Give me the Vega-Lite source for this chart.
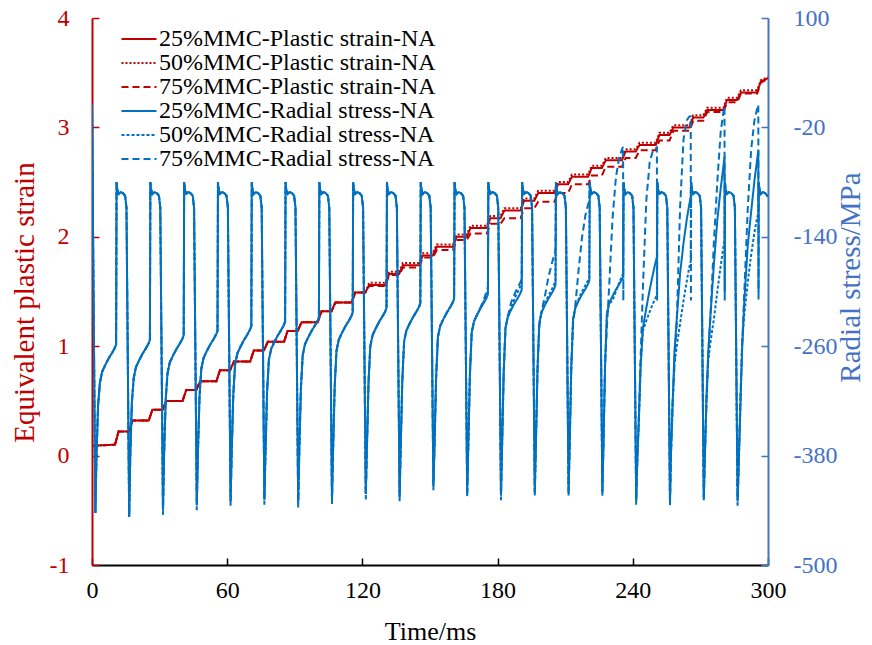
{
"$schema":"https://vega.github.io/schema/vega-lite/v6.json",
"width":676,"height":547,
"autosize":"none",
"padding":{"left":92,"top":18,"right":104,"bottom":80},
"background":"white",
"config":{"font":"Liberation Serif","view":{"stroke":null},"axis":{"grid":false,"labelFont":"Liberation Serif","titleFont":"Liberation Serif","labelFontSize":24,"titleFontSize":29,"titleFontWeight":"normal","labelOverlap":false}},
"layer":[
{"data":{"values":[
{"t":0,"r25":0.09,"r50":0.09,"r75":0.09},
{"t":10.2,"r25":0.10,"r50":0.10,"r75":0.10},
{"t":11.8,"r25":0.22,"r50":0.22,"r75":0.22},
{"t":16.3,"r25":0.22,"r50":0.22,"r75":0.22},
{"t":18,"r25":0.32,"r50":0.32,"r75":0.32},
{"t":25.2,"r25":0.32,"r50":0.32,"r75":0.32},
{"t":26.8,"r25":0.42,"r50":0.42,"r75":0.42},
{"t":31.3,"r25":0.42,"r50":0.42,"r75":0.42},
{"t":33,"r25":0.50,"r50":0.50,"r75":0.50},
{"t":40.2,"r25":0.50,"r50":0.50,"r75":0.50},
{"t":41.8,"r25":0.60,"r50":0.60,"r75":0.60},
{"t":46.3,"r25":0.60,"r50":0.60,"r75":0.60},
{"t":48,"r25":0.68,"r50":0.68,"r75":0.68},
{"t":55.2,"r25":0.68,"r50":0.68,"r75":0.68},
{"t":56.8,"r25":0.78,"r50":0.78,"r75":0.78},
{"t":61.3,"r25":0.78,"r50":0.78,"r75":0.78},
{"t":63,"r25":0.86,"r50":0.86,"r75":0.86},
{"t":70.2,"r25":0.86,"r50":0.86,"r75":0.86},
{"t":71.8,"r25":0.96,"r50":0.96,"r75":0.96},
{"t":76.3,"r25":0.96,"r50":0.96,"r75":0.96},
{"t":78,"r25":1.04,"r50":1.04,"r75":1.04},
{"t":85.2,"r25":1.04,"r50":1.04,"r75":1.04},
{"t":86.8,"r25":1.14,"r50":1.14,"r75":1.14},
{"t":91.3,"r25":1.14,"r50":1.14,"r75":1.14},
{"t":93,"r25":1.22,"r50":1.22,"r75":1.22},
{"t":100.2,"r25":1.22,"r50":1.22,"r75":1.22},
{"t":101.8,"r25":1.32,"r50":1.32,"r75":1.32},
{"t":106.3,"r25":1.32,"r50":1.32,"r75":1.32},
{"t":108,"r25":1.40,"r50":1.40,"r75":1.40},
{"t":115.2,"r25":1.40,"r50":1.40,"r75":1.40},
{"t":116.8,"r25":1.49,"r50":1.49,"r75":1.49},
{"t":121.3,"r25":1.49,"r50":1.49,"r75":1.49},
{"t":123,"r25":1.56,"r50":1.58,"r75":1.55},
{"t":130.2,"r25":1.56,"r50":1.58,"r75":1.55},
{"t":131.8,"r25":1.66,"r50":1.68,"r75":1.65},
{"t":136.3,"r25":1.66,"r50":1.68,"r75":1.65},
{"t":138,"r25":1.74,"r50":1.76,"r75":1.72},
{"t":145.2,"r25":1.74,"r50":1.76,"r75":1.72},
{"t":146.8,"r25":1.83,"r50":1.85,"r75":1.81},
{"t":151.3,"r25":1.83,"r50":1.85,"r75":1.81},
{"t":153,"r25":1.91,"r50":1.93,"r75":1.88},
{"t":160.2,"r25":1.91,"r50":1.93,"r75":1.88},
{"t":161.8,"r25":2.00,"r50":2.02,"r75":1.97},
{"t":166.3,"r25":2.00,"r50":2.02,"r75":1.97},
{"t":168,"r25":2.08,"r50":2.10,"r75":2.03},
{"t":175.2,"r25":2.08,"r50":2.10,"r75":2.03},
{"t":176.8,"r25":2.17,"r50":2.19,"r75":2.12},
{"t":181.3,"r25":2.17,"r50":2.19,"r75":2.12},
{"t":183,"r25":2.24,"r50":2.26,"r75":2.17},
{"t":190.2,"r25":2.24,"r50":2.26,"r75":2.17},
{"t":191.8,"r25":2.33,"r50":2.35,"r75":2.26},
{"t":196.3,"r25":2.33,"r50":2.35,"r75":2.26},
{"t":198,"r25":2.40,"r50":2.42,"r75":2.32},
{"t":205.2,"r25":2.40,"r50":2.42,"r75":2.32},
{"t":206.8,"r25":2.48,"r50":2.50,"r75":2.40},
{"t":211.3,"r25":2.48,"r50":2.50,"r75":2.40},
{"t":213,"r25":2.55,"r50":2.57,"r75":2.48},
{"t":220.2,"r25":2.55,"r50":2.57,"r75":2.48},
{"t":221.8,"r25":2.63,"r50":2.65,"r75":2.56},
{"t":226.3,"r25":2.63,"r50":2.65,"r75":2.56},
{"t":228,"r25":2.70,"r50":2.72,"r75":2.64},
{"t":235.2,"r25":2.70,"r50":2.72,"r75":2.64},
{"t":236.8,"r25":2.78,"r50":2.80,"r75":2.72},
{"t":241.3,"r25":2.78,"r50":2.80,"r75":2.72},
{"t":243,"r25":2.84,"r50":2.86,"r75":2.79},
{"t":250.2,"r25":2.84,"r50":2.86,"r75":2.79},
{"t":251.8,"r25":2.93,"r50":2.95,"r75":2.88},
{"t":256.3,"r25":2.93,"r50":2.95,"r75":2.88},
{"t":258,"r25":3.00,"r50":3.02,"r75":2.97},
{"t":265.2,"r25":3.00,"r50":3.02,"r75":2.97},
{"t":266.8,"r25":3.09,"r50":3.11,"r75":3.06},
{"t":271.3,"r25":3.09,"r50":3.11,"r75":3.06},
{"t":273,"r25":3.16,"r50":3.18,"r75":3.14},
{"t":280.2,"r25":3.16,"r50":3.18,"r75":3.14},
{"t":281.8,"r25":3.25,"r50":3.27,"r75":3.23},
{"t":286.3,"r25":3.25,"r50":3.27,"r75":3.23},
{"t":288,"r25":3.32,"r50":3.34,"r75":3.31},
{"t":295.2,"r25":3.32,"r50":3.34,"r75":3.31},
{"t":296.8,"r25":3.42,"r50":3.43,"r75":3.41},
{"t":300,"r25":3.45,"r50":3.46,"r75":3.44}
]},
"transform":[{"fold":["r25","r50","r75"],"as":["k","v"]}],
"mark":{"type":"line","strokeWidth":2,"clip":true},
"encoding":{
"x":{"field":"t","type":"quantitative","scale":{"domain":[0,300],"nice":false},"axis":{"title":"Time/ms","titleFontSize":26,"values":[0,60,120,180,240,300],"labelFlush":false,"tickSize":-7,"labelPadding":20,"domainColor":"black","tickColor":"black","domainWidth":2,"tickWidth":1.5,"labelColor":"black","titleColor":"black","titlePadding":16}},
"y":{"field":"v","type":"quantitative","scale":{"domain":[-1,4],"nice":false},"axis":{"title":"Equivalent plastic strain","values":[-1,0,1,2,3,4],"labelExpr":"'' + datum.value","tickSize":-7,"labelPadding":30,"domainColor":"#C00000","tickColor":"#C00000","labelColor":"#C00000","titleColor":"#C00000","domainWidth":2,"tickWidth":1.5,"titleX":-68,"titleY":284,"titleAlign":"center","titleBaseline":"middle"}},
"color":{"field":"k","type":"nominal","scale":{"domain":["r25","r50","r75","b25","b50","b75"],"range":["#C00000","#C00000","#C00000","#0070C0","#0070C0","#0070C0"]},"legend":{"title":null,"orient":"none","legendX":35,"legendY":9,"padding":0,"labelFont":"Liberation Serif","labelFontSize":24,"labelColor":"black","labelLimit":500,"symbolType":"M-1.75,0H1.75","symbolSize":400,"symbolStrokeWidth":2,"rowPadding":-1,"labelOffset":8,"labelExpr":"datum.label=='r25'?'25%MMC-Plastic strain-NA':datum.label=='r50'?'50%MMC-Plastic strain-NA':datum.label=='r75'?'75%MMC-Plastic strain-NA':datum.label=='b25'?'25%MMC-Radial stress-NA':datum.label=='b50'?'50%MMC-Radial stress-NA':'75%MMC-Radial stress-NA'"}},
"strokeDash":{"field":"k","type":"nominal","scale":{"domain":["r25","r50","r75","b25","b50","b75"],"range":[[1,0],[2,2],[7,4],[1,0],[3,2],[7,4]]},"legend":{"title":null,"orient":"none","legendX":35,"legendY":9,"padding":0,"labelFont":"Liberation Serif","labelFontSize":24,"labelColor":"black","labelLimit":500,"symbolType":"M-1.75,0H1.75","symbolSize":400,"symbolStrokeWidth":2,"rowPadding":-1,"labelOffset":8,"labelExpr":"datum.label=='r25'?'25%MMC-Plastic strain-NA':datum.label=='r50'?'50%MMC-Plastic strain-NA':datum.label=='r75'?'75%MMC-Plastic strain-NA':datum.label=='b25'?'25%MMC-Radial stress-NA':datum.label=='b50'?'50%MMC-Radial stress-NA':'75%MMC-Radial stress-NA'"}}
}},
{"data":{"values":[
{"t":0,"b25":5,"b50":5,"b75":5},
{"t":1.5,"b25":-443,"b50":-443,"b75":-443},
{"t":2,"b25":-380,"b50":-380,"b75":-380},
{"t":2.7,"b25":-325,"b50":-325,"b75":-325},
{"t":3.5,"b25":-300,"b50":-300,"b75":-300},
{"t":4.5,"b25":-288,"b50":-288,"b75":-288},
{"t":6,"b25":-280,"b50":-280,"b75":-280},
{"t":7.5,"b25":-273,"b50":-273,"b75":-273},
{"t":9,"b25":-267,"b50":-267,"b75":-267},
{"t":10.1,"b25":-262,"b50":-262,"b75":-262},
{"t":10.7,"b25":-258,"b50":-258,"b75":-258},
{"t":10.8,"b25":-169,"b50":-169,"b75":-169},
{"t":10.9,"b25":-80,"b50":-80,"b75":-80},
{"t":11.2,"b25":-88,"b50":-88,"b75":-88},
{"t":11.8,"b25":-93,"b50":-93,"b75":-93},
{"t":12.7,"b25":-91,"b50":-91,"b75":-91},
{"t":13.7,"b25":-92,"b50":-92,"b75":-92},
{"t":14.7,"b25":-95,"b50":-95,"b75":-95},
{"t":15.3,"b25":-108,"b50":-108,"b75":-108},
{"t":16.5,"b25":-447,"b50":-447,"b75":-447},
{"t":17,"b25":-379,"b50":-379,"b75":-379},
{"t":17.7,"b25":-322,"b50":-322,"b75":-322},
{"t":18.5,"b25":-295,"b50":-295,"b75":-295},
{"t":19.5,"b25":-283,"b50":-283,"b75":-283},
{"t":21,"b25":-275,"b50":-275,"b75":-275},
{"t":22.5,"b25":-268,"b50":-268,"b75":-268},
{"t":24,"b25":-262,"b50":-262,"b75":-262},
{"t":25.1,"b25":-257,"b50":-257,"b75":-257},
{"t":25.7,"b25":-253,"b50":-253,"b75":-253},
{"t":25.8,"b25":-167,"b50":-167,"b75":-167},
{"t":25.9,"b25":-80,"b50":-80,"b75":-80},
{"t":26.2,"b25":-88,"b50":-88,"b75":-88},
{"t":26.8,"b25":-93,"b50":-93,"b75":-93},
{"t":27.7,"b25":-91,"b50":-91,"b75":-91},
{"t":28.7,"b25":-92,"b50":-92,"b75":-92},
{"t":29.7,"b25":-95,"b50":-95,"b75":-95},
{"t":30.3,"b25":-108,"b50":-108,"b75":-108},
{"t":31.5,"b25":-440,"b50":-441,"b75":-445},
{"t":32,"b25":-378,"b50":-378,"b75":-378},
{"t":32.7,"b25":-319,"b50":-319,"b75":-319},
{"t":33.5,"b25":-290,"b50":-290,"b75":-290},
{"t":34.5,"b25":-278,"b50":-278,"b75":-278},
{"t":36,"b25":-270,"b50":-270,"b75":-270},
{"t":37.5,"b25":-263,"b50":-263,"b75":-263},
{"t":39,"b25":-257,"b50":-257,"b75":-257},
{"t":40.1,"b25":-252,"b50":-252,"b75":-252},
{"t":40.7,"b25":-248,"b50":-248,"b75":-248},
{"t":40.8,"b25":-164,"b50":-164,"b75":-164},
{"t":40.9,"b25":-80,"b50":-80,"b75":-80},
{"t":41.2,"b25":-88,"b50":-88,"b75":-88},
{"t":41.8,"b25":-93,"b50":-93,"b75":-93},
{"t":42.7,"b25":-91,"b50":-91,"b75":-91},
{"t":43.7,"b25":-92,"b50":-92,"b75":-92},
{"t":44.7,"b25":-95,"b50":-95,"b75":-95},
{"t":45.3,"b25":-108,"b50":-108,"b75":-108},
{"t":46.5,"b25":-434,"b50":-435,"b75":-440},
{"t":47,"b25":-377,"b50":-377,"b75":-377},
{"t":47.7,"b25":-316,"b50":-316,"b75":-316},
{"t":48.5,"b25":-285,"b50":-285,"b75":-285},
{"t":49.5,"b25":-273,"b50":-273,"b75":-273},
{"t":51,"b25":-265,"b50":-265,"b75":-265},
{"t":52.5,"b25":-258,"b50":-258,"b75":-258},
{"t":54,"b25":-252,"b50":-252,"b75":-252},
{"t":55.1,"b25":-247,"b50":-247,"b75":-247},
{"t":55.7,"b25":-243,"b50":-243,"b75":-243},
{"t":55.8,"b25":-162,"b50":-162,"b75":-162},
{"t":55.9,"b25":-80,"b50":-80,"b75":-80},
{"t":56.2,"b25":-88,"b50":-88,"b75":-88},
{"t":56.8,"b25":-93,"b50":-93,"b75":-93},
{"t":57.7,"b25":-91,"b50":-91,"b75":-91},
{"t":58.7,"b25":-92,"b50":-92,"b75":-92},
{"t":59.7,"b25":-95,"b50":-95,"b75":-95},
{"t":60.3,"b25":-108,"b50":-108,"b75":-108},
{"t":61.5,"b25":-429,"b50":-430,"b75":-435},
{"t":62,"b25":-376,"b50":-376,"b75":-376},
{"t":62.7,"b25":-313,"b50":-313,"b75":-313},
{"t":63.5,"b25":-280,"b50":-280,"b75":-280},
{"t":64.5,"b25":-268,"b50":-268,"b75":-268},
{"t":66,"b25":-260,"b50":-260,"b75":-260},
{"t":67.5,"b25":-253,"b50":-253,"b75":-253},
{"t":69,"b25":-247,"b50":-247,"b75":-247},
{"t":70.1,"b25":-242,"b50":-242,"b75":-242},
{"t":70.7,"b25":-238,"b50":-238,"b75":-238},
{"t":70.8,"b25":-159,"b50":-159,"b75":-159},
{"t":70.9,"b25":-80,"b50":-80,"b75":-80},
{"t":71.2,"b25":-88,"b50":-88,"b75":-88},
{"t":71.8,"b25":-93,"b50":-93,"b75":-93},
{"t":72.7,"b25":-91,"b50":-91,"b75":-91},
{"t":73.7,"b25":-92,"b50":-92,"b75":-92},
{"t":74.7,"b25":-95,"b50":-95,"b75":-95},
{"t":75.3,"b25":-108,"b50":-108,"b75":-108},
{"t":76.5,"b25":-428,"b50":-429,"b75":-434},
{"t":77,"b25":-375,"b50":-375,"b75":-375},
{"t":77.7,"b25":-310,"b50":-310,"b75":-310},
{"t":78.5,"b25":-275,"b50":-275,"b75":-275},
{"t":79.5,"b25":-263,"b50":-263,"b75":-263},
{"t":81,"b25":-255,"b50":-255,"b75":-255},
{"t":82.5,"b25":-248,"b50":-248,"b75":-248},
{"t":84,"b25":-242,"b50":-242,"b75":-242},
{"t":85.1,"b25":-237,"b50":-237,"b75":-237},
{"t":85.7,"b25":-233,"b50":-233,"b75":-233},
{"t":85.8,"b25":-157,"b50":-157,"b75":-157},
{"t":85.9,"b25":-80,"b50":-80,"b75":-80},
{"t":86.2,"b25":-88,"b50":-88,"b75":-88},
{"t":86.8,"b25":-93,"b50":-93,"b75":-93},
{"t":87.7,"b25":-91,"b50":-91,"b75":-91},
{"t":88.7,"b25":-92,"b50":-92,"b75":-92},
{"t":89.7,"b25":-95,"b50":-95,"b75":-95},
{"t":90.3,"b25":-108,"b50":-108,"b75":-108},
{"t":91.5,"b25":-432,"b50":-433,"b75":-437},
{"t":92,"b25":-374,"b50":-374,"b75":-374},
{"t":92.7,"b25":-307,"b50":-307,"b75":-307},
{"t":93.5,"b25":-270,"b50":-270,"b75":-270},
{"t":94.5,"b25":-258,"b50":-258,"b75":-258},
{"t":96,"b25":-250,"b50":-250,"b75":-250},
{"t":97.5,"b25":-243,"b50":-243,"b75":-243},
{"t":99,"b25":-237,"b50":-237,"b75":-237},
{"t":100.1,"b25":-232,"b50":-232,"b75":-232},
{"t":100.7,"b25":-228,"b50":-228,"b75":-228},
{"t":100.8,"b25":-154,"b50":-154,"b75":-154},
{"t":100.9,"b25":-80,"b50":-80,"b75":-80},
{"t":101.2,"b25":-88,"b50":-88,"b75":-88},
{"t":101.8,"b25":-93,"b50":-93,"b75":-93},
{"t":102.7,"b25":-91,"b50":-91,"b75":-91},
{"t":103.7,"b25":-92,"b50":-92,"b75":-92},
{"t":104.7,"b25":-95,"b50":-95,"b75":-95},
{"t":105.3,"b25":-108,"b50":-108,"b75":-108},
{"t":106.5,"b25":-428,"b50":-429,"b75":-433},
{"t":107,"b25":-373,"b50":-373,"b75":-373},
{"t":107.7,"b25":-304,"b50":-304,"b75":-304},
{"t":108.5,"b25":-265,"b50":-265,"b75":-265},
{"t":109.5,"b25":-253,"b50":-253,"b75":-253},
{"t":111,"b25":-245,"b50":-245,"b75":-245},
{"t":112.5,"b25":-238,"b50":-238,"b75":-238},
{"t":114,"b25":-232,"b50":-232,"b75":-232},
{"t":115.1,"b25":-227,"b50":-227,"b75":-227},
{"t":115.7,"b25":-223,"b50":-223,"b75":-223},
{"t":115.8,"b25":-152,"b50":-152,"b75":-152},
{"t":115.9,"b25":-80,"b50":-80,"b75":-80},
{"t":116.2,"b25":-88,"b50":-88,"b75":-88},
{"t":116.8,"b25":-93,"b50":-93,"b75":-93},
{"t":117.7,"b25":-91,"b50":-91,"b75":-91},
{"t":118.7,"b25":-92,"b50":-92,"b75":-92},
{"t":119.7,"b25":-95,"b50":-95,"b75":-95},
{"t":120.3,"b25":-108,"b50":-108,"b75":-108},
{"t":121.5,"b25":-422,"b50":-423,"b75":-428},
{"t":122,"b25":-372,"b50":-372,"b75":-372},
{"t":122.7,"b25":-301,"b50":-301,"b75":-301},
{"t":123.5,"b25":-260,"b50":-260,"b75":-260},
{"t":124.5,"b25":-248,"b50":-248,"b75":-248},
{"t":126,"b25":-240,"b50":-240,"b75":-240},
{"t":127.5,"b25":-233,"b50":-233,"b75":-233},
{"t":129,"b25":-227,"b50":-227,"b75":-227},
{"t":130.1,"b25":-222,"b50":-222,"b75":-222},
{"t":130.7,"b25":-218,"b50":-218,"b75":-218},
{"t":130.8,"b25":-149,"b50":-149,"b75":-149},
{"t":130.9,"b25":-80,"b50":-80,"b75":-80},
{"t":131.2,"b25":-88,"b50":-88,"b75":-88},
{"t":131.8,"b25":-93,"b50":-93,"b75":-93},
{"t":132.7,"b25":-91,"b50":-91,"b75":-91},
{"t":133.7,"b25":-92,"b50":-92,"b75":-92},
{"t":134.7,"b25":-95,"b50":-95,"b75":-95},
{"t":135.3,"b25":-108,"b50":-108,"b75":-108},
{"t":136.5,"b25":-424,"b50":-425,"b75":-430},
{"t":137,"b25":-371,"b50":-371,"b75":-371},
{"t":137.7,"b25":-298,"b50":-298,"b75":-298},
{"t":138.5,"b25":-255,"b50":-255,"b75":-255},
{"t":139.5,"b25":-243,"b50":-243,"b75":-243},
{"t":141,"b25":-235,"b50":-235,"b75":-235},
{"t":142.5,"b25":-228,"b50":-228,"b75":-228},
{"t":144,"b25":-222,"b50":-222,"b75":-222},
{"t":145.1,"b25":-217,"b50":-217,"b75":-217},
{"t":145.7,"b25":-213,"b50":-213,"b75":-213},
{"t":145.8,"b25":-147,"b50":-147,"b75":-147},
{"t":145.9,"b25":-80,"b50":-80,"b75":-80},
{"t":146.2,"b25":-88,"b50":-88,"b75":-88},
{"t":146.8,"b25":-93,"b50":-93,"b75":-93},
{"t":147.7,"b25":-91,"b50":-91,"b75":-91},
{"t":148.7,"b25":-92,"b50":-92,"b75":-92},
{"t":149.7,"b25":-95,"b50":-95,"b75":-95},
{"t":150.3,"b25":-108,"b50":-108,"b75":-108},
{"t":151.5,"b25":-412,"b50":-413,"b75":-418},
{"t":152,"b25":-370,"b50":-370,"b75":-370},
{"t":152.7,"b25":-295,"b50":-295,"b75":-295},
{"t":153.5,"b25":-250,"b50":-250,"b75":-250},
{"t":154.5,"b25":-238,"b50":-238,"b75":-238},
{"t":156,"b25":-230,"b50":-230,"b75":-230},
{"t":157.5,"b25":-223,"b50":-223,"b75":-223},
{"t":159,"b25":-217,"b50":-217,"b75":-217},
{"t":160.1,"b25":-212,"b50":-212,"b75":-212},
{"t":160.7,"b25":-208,"b50":-208,"b75":-208},
{"t":160.8,"b25":-144,"b50":-144,"b75":-144},
{"t":160.9,"b25":-80,"b50":-80,"b75":-80},
{"t":161.2,"b25":-88,"b50":-88,"b75":-88},
{"t":161.8,"b25":-93,"b50":-93,"b75":-93},
{"t":162.7,"b25":-91,"b50":-91,"b75":-91},
{"t":163.7,"b25":-92,"b50":-92,"b75":-92},
{"t":164.7,"b25":-95,"b50":-95,"b75":-95},
{"t":165.3,"b25":-108,"b50":-108,"b75":-108},
{"t":166.5,"b25":-420,"b50":-422,"b75":-426},
{"t":167,"b25":-369,"b50":-369,"b75":-369},
{"t":167.7,"b25":-292,"b50":-292,"b75":-292},
{"t":168.5,"b25":-245,"b50":-245,"b75":-245},
{"t":169.5,"b25":-233,"b50":-233,"b75":-233},
{"t":171,"b25":-225,"b50":-225,"b75":-225},
{"t":172.5,"b25":-218,"b50":-218,"b75":-217},
{"t":174,"b25":-212,"b50":-210,"b75":-208},
{"t":175.1,"b25":-207,"b50":-204,"b75":-200},
{"t":175.7,"b25":-203,"b50":-200,"b75":-195},
{"t":175.8,"b25":-142,"b50":-140,"b75":-138},
{"t":175.9,"b25":-80,"b50":-80,"b75":-80},
{"t":176.2,"b25":-88,"b50":-88,"b75":-88},
{"t":176.8,"b25":-93,"b50":-93,"b75":-93},
{"t":177.7,"b25":-91,"b50":-91,"b75":-91},
{"t":178.7,"b25":-92,"b50":-92,"b75":-92},
{"t":179.7,"b25":-95,"b50":-95,"b75":-95},
{"t":180.3,"b25":-108,"b50":-108,"b75":-108},
{"t":181.5,"b25":-423,"b50":-425,"b75":-429},
{"t":182,"b25":-368,"b50":-368,"b75":-368},
{"t":182.7,"b25":-289,"b50":-289,"b75":-289},
{"t":183.5,"b25":-240,"b50":-240,"b75":-240},
{"t":184.5,"b25":-228,"b50":-228,"b75":-228},
{"t":186,"b25":-220,"b50":-218,"b75":-212},
{"t":187.5,"b25":-213,"b50":-208,"b75":-203},
{"t":189,"b25":-207,"b50":-200,"b75":-195},
{"t":190.1,"b25":-202,"b50":-194,"b75":-190},
{"t":190.7,"b25":-198,"b50":-190,"b75":-186},
{"t":190.8,"b25":-139,"b50":-135,"b75":-133},
{"t":190.9,"b25":-80,"b50":-80,"b75":-80},
{"t":191.2,"b25":-88,"b50":-88,"b75":-88},
{"t":191.8,"b25":-93,"b50":-93,"b75":-93},
{"t":192.7,"b25":-91,"b50":-91,"b75":-91},
{"t":193.7,"b25":-92,"b50":-92,"b75":-92},
{"t":194.7,"b25":-95,"b50":-95,"b75":-95},
{"t":195.3,"b25":-108,"b50":-108,"b75":-108},
{"t":196.5,"b25":-419,"b50":-421,"b75":-425},
{"t":197,"b25":-367,"b50":-367,"b75":-367},
{"t":197.7,"b25":-286,"b50":-286,"b75":-286},
{"t":198.5,"b25":-235,"b50":-235,"b75":-238},
{"t":199.5,"b25":-223,"b50":-223,"b75":-222},
{"t":201,"b25":-215,"b50":-213,"b75":-205},
{"t":202.5,"b25":-208,"b50":-205,"b75":-185},
{"t":204,"b25":-202,"b50":-198,"b75":-170},
{"t":205.1,"b25":-197,"b50":-192,"b75":-160},
{"t":205.7,"b25":-193,"b50":-188,"b75":-155},
{"t":205.8,"b25":-137,"b50":-134,"b75":-118},
{"t":205.9,"b25":-80,"b50":-80,"b75":-80},
{"t":206.2,"b25":-88,"b50":-88,"b75":-88},
{"t":206.8,"b25":-93,"b50":-93,"b75":-93},
{"t":207.7,"b25":-91,"b50":-91,"b75":-91},
{"t":208.7,"b25":-92,"b50":-92,"b75":-92},
{"t":209.7,"b25":-95,"b50":-95,"b75":-95},
{"t":210.3,"b25":-108,"b50":-108,"b75":-108},
{"t":211.5,"b25":-419,"b50":-421,"b75":-425},
{"t":212,"b25":-366,"b50":-366,"b75":-366},
{"t":212.7,"b25":-283,"b50":-283,"b75":-283},
{"t":213.5,"b25":-230,"b50":-230,"b75":-235},
{"t":214.5,"b25":-218,"b50":-218,"b75":-215},
{"t":216,"b25":-210,"b50":-208,"b75":-175},
{"t":217.5,"b25":-203,"b50":-200,"b75":-140},
{"t":219,"b25":-197,"b50":-193,"b75":-116},
{"t":220.1,"b25":-192,"b50":-188,"b75":-105},
{"t":220.7,"b25":-188,"b50":-185,"b75":-100},
{"t":220.8,"b25":-134,"b50":-132,"b75":-90},
{"t":220.9,"b25":-80,"b50":-80,"b75":-80},
{"t":221.2,"b25":-88,"b50":-88,"b75":-88},
{"t":221.8,"b25":-93,"b50":-93,"b75":-93},
{"t":222.7,"b25":-91,"b50":-91,"b75":-91},
{"t":223.7,"b25":-92,"b50":-92,"b75":-92},
{"t":224.7,"b25":-95,"b50":-95,"b75":-95},
{"t":225.3,"b25":-108,"b50":-108,"b75":-108},
{"t":226.5,"b25":-419,"b50":-421,"b75":-425},
{"t":227,"b25":-365,"b50":-365,"b75":-365},
{"t":227.7,"b25":-280,"b50":-280,"b75":-280},
{"t":228.5,"b25":-225,"b50":-225,"b75":-240},
{"t":229.5,"b25":-213,"b50":-213,"b75":-195},
{"t":231,"b25":-205,"b50":-210,"b75":-120},
{"t":232.5,"b25":-198,"b50":-200,"b75":-75},
{"t":234,"b25":-192,"b50":-190,"b75":-52},
{"t":235.1,"b25":-187,"b50":-184,"b75":-45},
{"t":235.7,"b25":-183,"b50":-180,"b75":-41},
{"t":235.8,"b25":-131,"b50":-130,"b75":-210},
{"t":235.9,"b25":-80,"b50":-80,"b75":-80},
{"t":236.2,"b25":-88,"b50":-88,"b75":-88},
{"t":236.8,"b25":-93,"b50":-93,"b75":-93},
{"t":237.7,"b25":-91,"b50":-91,"b75":-91},
{"t":238.7,"b25":-92,"b50":-92,"b75":-92},
{"t":239.7,"b25":-95,"b50":-95,"b75":-95},
{"t":240.3,"b25":-108,"b50":-108,"b75":-108},
{"t":241.5,"b25":-428,"b50":-430,"b75":-434},
{"t":242,"b25":-385,"b50":-385,"b75":-385},
{"t":242.7,"b25":-340,"b50":-340,"b75":-335},
{"t":243.5,"b25":-280,"b50":-280,"b75":-270},
{"t":244.5,"b25":-240,"b50":-243,"b75":-195},
{"t":246,"b25":-218,"b50":-232,"b75":-100},
{"t":247.5,"b25":-198,"b50":-222,"b75":-58},
{"t":249,"b25":-180,"b50":-213,"b75":-45},
{"t":250.1,"b25":-168,"b50":-207,"b75":-43},
{"t":250.7,"b25":-162,"b50":-204,"b75":-42},
{"t":250.8,"b25":-121,"b50":-140,"b75":-210},
{"t":250.9,"b25":-80,"b50":-80,"b75":-80},
{"t":251.2,"b25":-88,"b50":-88,"b75":-88},
{"t":251.8,"b25":-93,"b50":-93,"b75":-93},
{"t":252.7,"b25":-91,"b50":-91,"b75":-91},
{"t":253.7,"b25":-92,"b50":-92,"b75":-92},
{"t":254.7,"b25":-95,"b50":-95,"b75":-95},
{"t":255.3,"b25":-108,"b50":-108,"b75":-108},
{"t":256.5,"b25":-429,"b50":-431,"b75":-435},
{"t":257,"b25":-370,"b50":-375,"b75":-375},
{"t":257.7,"b25":-320,"b50":-325,"b75":-320},
{"t":258.5,"b25":-265,"b50":-280,"b75":-280},
{"t":259.5,"b25":-230,"b50":-260,"b75":-235},
{"t":261,"b25":-180,"b50":-235,"b75":-107},
{"t":262.5,"b25":-147,"b50":-210,"b75":-33},
{"t":264,"b25":-120,"b50":-188,"b75":-12},
{"t":265.1,"b25":-104,"b50":-173,"b75":-8},
{"t":265.7,"b25":-96,"b50":-167,"b75":-8},
{"t":265.8,"b25":-88,"b50":-120,"b75":-210},
{"t":265.9,"b25":-80,"b50":-80,"b75":-80},
{"t":266.2,"b25":-88,"b50":-88,"b75":-88},
{"t":266.8,"b25":-93,"b50":-93,"b75":-93},
{"t":267.7,"b25":-91,"b50":-91,"b75":-91},
{"t":268.7,"b25":-92,"b50":-92,"b75":-92},
{"t":269.7,"b25":-95,"b50":-95,"b75":-95},
{"t":270.3,"b25":-108,"b50":-108,"b75":-108},
{"t":271.5,"b25":-425,"b50":-427,"b75":-431},
{"t":272,"b25":-380,"b50":-380,"b75":-380},
{"t":272.7,"b25":-315,"b50":-320,"b75":-320},
{"t":273.5,"b25":-265,"b50":-275,"b75":-270},
{"t":274.5,"b25":-225,"b50":-255,"b75":-225},
{"t":276,"b25":-170,"b50":-230,"b75":-145},
{"t":277.5,"b25":-122,"b50":-200,"b75":-80},
{"t":279,"b25":-87,"b50":-172,"b75":-25},
{"t":280.1,"b25":-65,"b50":-153,"b75":-5},
{"t":280.7,"b25":-52,"b50":-143,"b75":3},
{"t":280.8,"b25":-200,"b50":-110,"b75":-210},
{"t":280.9,"b25":-80,"b50":-80,"b75":-80},
{"t":281.2,"b25":-88,"b50":-88,"b75":-88},
{"t":281.8,"b25":-93,"b50":-93,"b75":-93},
{"t":282.7,"b25":-91,"b50":-91,"b75":-91},
{"t":283.7,"b25":-92,"b50":-92,"b75":-92},
{"t":284.7,"b25":-95,"b50":-95,"b75":-95},
{"t":285.3,"b25":-108,"b50":-108,"b75":-108},
{"t":286.5,"b25":-429,"b50":-431,"b75":-435},
{"t":287,"b25":-390,"b50":-390,"b75":-390},
{"t":287.7,"b25":-330,"b50":-330,"b75":-320},
{"t":288.5,"b25":-265,"b50":-255,"b75":-260},
{"t":289.5,"b25":-210,"b50":-225,"b75":-200},
{"t":291,"b25":-150,"b50":-190,"b75":-110},
{"t":292.5,"b25":-113,"b50":-160,"b75":-45},
{"t":294,"b25":-78,"b50":-135,"b75":-12},
{"t":295.1,"b25":-57,"b50":-120,"b75":0},
{"t":295.7,"b25":-45,"b50":-114,"b75":5},
{"t":295.8,"b25":-200,"b50":-100,"b75":-210},
{"t":295.9,"b25":-80,"b50":-80,"b75":-80},
{"t":296.2,"b25":-88,"b50":-88,"b75":-88},
{"t":296.8,"b25":-93,"b50":-93,"b75":-93},
{"t":297.7,"b25":-91,"b50":-91,"b75":-91},
{"t":298.7,"b25":-92,"b50":-92,"b75":-92},
{"t":300,"b25":-96,"b50":-96,"b75":-96}
]},
"transform":[{"fold":["b25","b50","b75"],"as":["k","v"]}],
"mark":{"type":"line","strokeWidth":2,"clip":true},
"encoding":{
"x":{"field":"t","type":"quantitative"},
"y":{"field":"v","type":"quantitative","scale":{"domain":[-500,100],"nice":false},"axis":{"orient":"right","title":"Radial stress/MPa","values":[-500,-380,-260,-140,-20,100],"labelExpr":"'' + datum.value","tickSize":-7,"labelPadding":32,"domainColor":"#4472C4","tickColor":"#4472C4","labelColor":"#4472C4","titleColor":"#4472C4","domainWidth":2,"tickWidth":1.5,"titleAngle":270,"titleX":82,"titleY":259,"titleAlign":"center","titleBaseline":"middle"}},
"color":{"field":"k","type":"nominal"},
"strokeDash":{"field":"k","type":"nominal"}
}}
],
"resolve":{"scale":{"y":"independent"}}
}
